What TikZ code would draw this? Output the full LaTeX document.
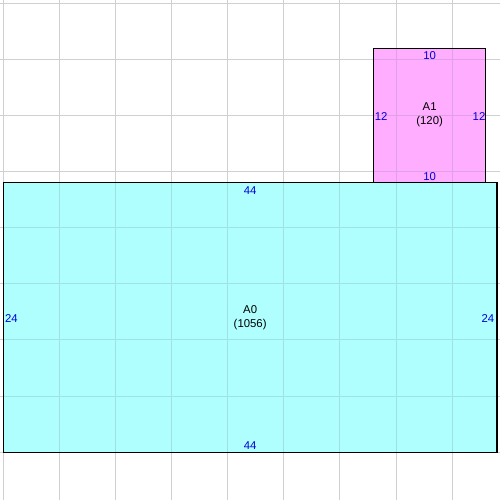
\documentclass[tikz,border=0pt]{standalone}
\usepackage{fontspec}
\setmainfont{Liberation Sans}
\begin{document}
\begin{tikzpicture}[x=0.25cm,y=-0.25cm,
  gridline/.style={line width=0.6pt},
  room/.style={draw=black,line width=0.7pt},
  dimlabel/.style={text=blue!85!black,inner sep=0pt,font=\fontsize{7.2}{8.5}\selectfont},
  namelabel/.style={text=black,inner sep=0pt,align=center,font=\fontsize{7.2}{8.8}\selectfont}]
\definecolor{cyanfill}{HTML}{AFFFFF}
\definecolor{pinkfill}{HTML}{FFADFF}
\definecolor{gridgray}{HTML}{D0D0D0}
\definecolor{gridcyan}{HTML}{A0E2E2}
\definecolor{gridpink}{HTML}{E0A0E8}
\useasboundingbox[fill=white] (-0.294,-0.294) rectangle (44.27,44.27);
% background grid
\foreach \k in {0,5,...,40} {
  \draw[gridline,draw=gridgray] (\k,-0.294) -- (\k,44.27);
  \draw[gridline,draw=gridgray] (-0.294,\k) -- (44.27,\k);
}
% room fills
\fill[cyanfill] (0,16) rectangle (44,40);
\fill[pinkfill] (33,4) rectangle (43,16);
\begin{scope}
  \clip (0,16) rectangle (44,40);
  \foreach \k in {0,5,...,40} {
    \draw[gridline,draw=gridcyan] (\k,-0.294) -- (\k,44.27);
    \draw[gridline,draw=gridcyan] (-0.294,\k) -- (44.27,\k);
  }
\end{scope}
\begin{scope}
  \clip (33,4) rectangle (43,16);
  \foreach \k in {0,5,...,40} {
    \draw[gridline,draw=gridpink] (\k,-0.294) -- (\k,44.27);
    \draw[gridline,draw=gridpink] (-0.294,\k) -- (44.27,\k);
  }
\end{scope}
% borders
\draw[room] (0,16) rectangle (44,40);
\draw[room] (33,4) rectangle (43,16);
% A0 labels
\node[namelabel] (a0) at (22,28.05) {A0\\(1056)};
\node[dimlabel] (a0t) at (22,16.72) {44};
\node[dimlabel] (a0b) at (22,39.42) {44};
\node[dimlabel] (a0l) at (0.72,28.12) {24};
\node[dimlabel] (a0r) at (43.2,28.12) {24};
% A1 labels
\node[namelabel] (a1) at (38,9.97) {A1\\(120)};
\node[dimlabel] (a1t) at (38,4.68) {10};
\node[dimlabel] (a1b) at (38,15.45) {10};
\node[dimlabel] (a1l) at (33.68,10.12) {12};
\node[dimlabel] (a1r) at (42.4,10.12) {12};
\end{tikzpicture}
\end{document}
